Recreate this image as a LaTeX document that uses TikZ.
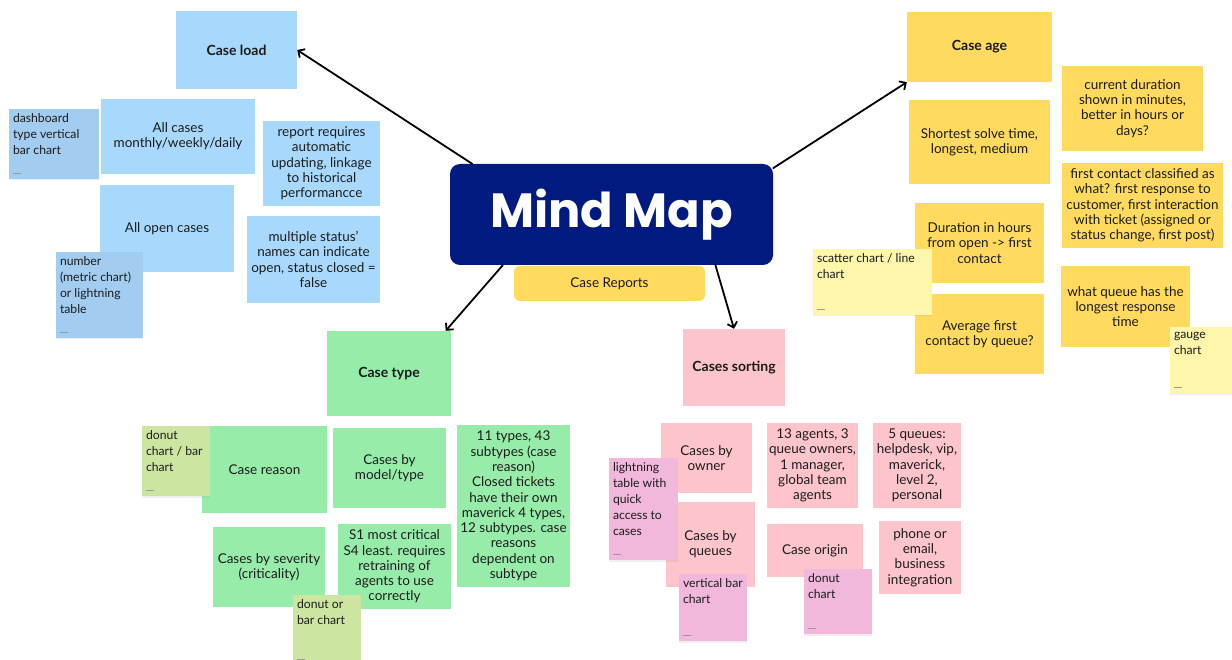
\documentclass[tikz,border=0pt]{standalone}
\usepackage{fontspec}
\setmainfont{Lato}
\newfontfamily\titlefont{Poppins}
\usetikzlibrary{arrows.meta,shadows}
\definecolor{navy}{HTML}{001A80}
\definecolor{inkcol}{HTML}{1C1C1C}
\definecolor{bluenote}{HTML}{A8D9FC}
\definecolor{bluestick}{HTML}{A3CCF1}
\definecolor{greennote}{HTML}{98ECAA}
\definecolor{greenstick}{HTML}{CCE6A1}
\definecolor{pinknote}{HTML}{FEC4CC}
\definecolor{pinkstick}{HTML}{F1B8DC}
\definecolor{yellownote}{HTML}{FFDA5F}
\definecolor{yellowstick}{HTML}{FEF6AB}
\definecolor{markgrey}{HTML}{9A9A9A}
% size of a note in px
\tikzset{
  box/.style 2 args={rectangle, minimum width=#1pt, minimum height=#2pt, inner sep=0pt},
  note/.style={fill=#1, text=inkcol, align=center, font=\fontsize{13.5}{15.3}\selectfont},
  head/.style={note=#1, font=\fontsize{14}{15}\selectfont\bfseries},
  sticky/.style={fill=#1, text=inkcol, inner xsep=4pt, inner ysep=5pt,
    font=\fontsize{12.2}{16}\selectfont,
    drop shadow={shadow xshift=0pt, shadow yshift=-1.5pt, opacity=0.12}},
  link/.style={draw=black, line width=1.8pt, -{Straight Barb[length=5pt,width=10pt]}}
}
% text of a sticky note: top left, small mark at the bottom
\newcommand{\stickytxt}[3]{\parbox[c][#2pt][t]{#1pt}{\raggedright #3\par\vfill
  {\color{markgrey}\rule{8pt}{0.8pt}}}}

\begin{document}
\begin{tikzpicture}[x=1pt, y=-1pt, line join=round, line cap=round]
\useasboundingbox[fill=white] (0,0) rectangle (1232,660);

% centre
\node[box={191}{35}, note=yellownote, rounded corners=6pt] (reports) at (609.5,283.5) {Case Reports};
\node[box={323}{101}, fill=navy, rounded corners=10pt, text=white,
  font=\titlefont\fontsize{48}{48}\selectfont\bfseries] (mindmap) at (611.5,214.5) {Mind Map};

% case load
\node[box={121}{78}, head=bluenote] (caseload) at (236.5,50) {Case load};
\node[box={154}{75}, note=bluenote] (allcases) at (178,136.5) {All cases\\monthly/weekly/daily};
\node[box={134}{87}, note=bluenote] (allopen) at (167,228.5) {All open cases};
\node[box={117}{85}, note=bluenote] (report) at (321.5,163.5) {report requires\\automatic\\updating, linkage\\to historical\\performancce};
\node[box={133}{87}, note=bluenote] (status) at (313.5,259.5) {multiple status'\\names can indicate\\open, status closed =\\false};

% case type
\node[box={124}{85}, head=greennote] (casetype) at (389,373.5) {Case type};
\node[box={125}{87}, note=greennote] (reason) at (264.5,469.5) {Case reason};
\node[box={113}{80}, note=greennote] (bymodel) at (389.5,468) {Cases by\\model/type};
\node[box={113}{162}, note=greennote] (subtypes) at (513.5,506) {11 types, 43\\subtypes (case\\reason)\\Closed tickets\\have their own\\maverick 4 types,\\12 subtypes. case\\reasons\\dependent on\\subtype};
\node[box={112}{80}, note=greennote] (severity) at (269,567) {Cases by severity\\(criticality)};
\node[box={113}{85}, note=greennote] (critical) at (394.5,566.5) {S1 most critical\\S4 least. requires\\retraining of\\agents to use\\correctly};

% cases sorting
\node[box={102}{77}, head=pinknote] (sorting) at (734,367.5) {Cases sorting};
\node[box={91}{70}, note=pinknote] (byowner) at (706.5,458) {Cases by\\owner};
\node[box={91}{85}, note=pinknote] (agents) at (812.5,465.5) {13 agents, 3\\queue owners,\\1 manager,\\global team\\agents};
\node[box={88}{85}, note=pinknote] (queues) at (917,465.5) {5 queues:\\helpdesk, vip,\\maverick,\\level 2,\\personal};
\node[box={89}{85}, note=pinknote] (byqueues) at (710.5,544.5) {Cases by\\queues};
\node[box={96}{53}, note=pinknote] (origin) at (815,550.5) {Case origin};
\node[box={82}{73}, note=pinknote] (phone) at (920,557.5) {phone or\\email,\\business\\integration};

% case age
\node[box={145}{70}, head=yellownote] (caseage) at (979.5,47) {Case age};
\node[box={141}{84}, note=yellownote] (shortest) at (979.5,142) {Shortest solve time,\\longest, medium};
\node[box={141}{85}, note=yellownote] (current) at (1132.5,108.5) {current duration\\shown in minutes,\\better in hours or\\days?};
\node[box={161}{85}, note=yellownote] (firstcontact) at (1142.5,205.5) {first contact classified as\\what? first response to\\customer, first interaction\\with ticket (assigned or\\status change, first post)};
\node[box={129}{80}, note=yellownote] (duration) at (979.5,243) {Duration in hours\\from open -> first\\contact};
\node[box={129}{80}, note=yellownote] (average) at (979.5,334) {Average first\\contact by queue?};
\node[box={129}{81}, note=yellownote] (longest) at (1125.5,306.5) {what queue has the\\longest response\\time};

% sticky notes
\node[sticky=bluestick] (dashboard) at (54,144) {\stickytxt{82}{60}{dashboard\\type vertical\\bar chart}};
\node[sticky=bluestick] (metric) at (99.5,295) {\stickytxt{79}{76}{number\\(metric chart)\\or lightning\\table}};
\node[sticky=greenstick] (donutbar) at (176,461) {\stickytxt{60}{60}{donut\\chart / bar\\chart}};
\node[sticky=greenstick] (donutor) at (327,630) {\stickytxt{60}{60}{donut or\\bar chart}};
\node[sticky=pinkstick] (lightning) at (643.5,509) {\stickytxt{61}{92}{lightning\\table with\\quick\\access to\\cases}};
\node[sticky=pinkstick] (vertbar) at (713,607.5) {\stickytxt{60}{57}{\mbox{vertical bar}\\chart}};
\node[sticky=pinkstick] (donut) at (838,601.5) {\stickytxt{60}{55}{donut\\chart}};
\node[sticky=yellowstick] (scatter) at (872.5,282) {\stickytxt{111}{56}{scatter chart / line\\chart}};
\node[sticky=yellowstick] (gauge) at (1204,360) {\stickytxt{60}{56}{gauge\\chart}};

% links
\draw[link] (mindmap.160) -- (caseload.east);
\draw[link] (mindmap.16) -- (caseage.south west);
\draw[link] (mindmap.205.6) -- (casetype.37);
\draw[link] (mindmap.334) -- (sorting.north);
\end{tikzpicture}
\end{document}
